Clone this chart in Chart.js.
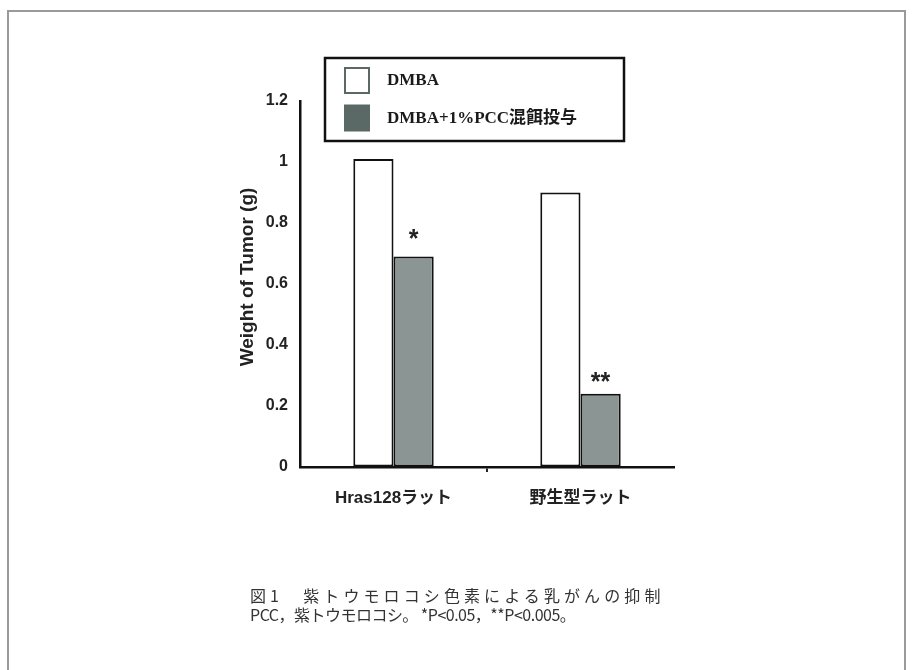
<!DOCTYPE html>
<html>
<head>
<meta charset="utf-8">
<script src="https://cdn.jsdelivr.net/npm/chart.js@4.4.1/dist/chart.umd.min.js"></script>
<style>
  html, body { margin: 0; padding: 0; background: #fff; }
  #wrap { position: relative; width: 913px; height: 670px; overflow: hidden; }
  #frame { position: absolute; left: 7px; top: 10px; width: 899px; height: 700px;
           border: 2px solid #9a9a9a; box-sizing: border-box; }
  canvas { position: absolute; left: 0; top: 0; }
  #caption { position: absolute; left: 250px; top: 586px; color: #333;
             font-family: "Noto Sans CJK JP", sans-serif; font-size: 16px; line-height: 19px; }
  #caption .l1 { letter-spacing: 4.1px; }
  #caption .l2 { letter-spacing: -0.5px; }
</style>
</head>
<body>
<div id="wrap">
  <div id="frame"></div>
  <canvas id="c" width="913" height="670"></canvas>
  <div id="caption">
    <div class="l1">図1　紫トウモロコシ色素による乳がんの抑制</div>
    <div class="l2">PCC，紫トウモロコシ。 *P&lt;0.05，**P&lt;0.005。</div>
  </div>
</div>
<script>
// Rat strains on the x axis
const categories = ['Hras128ラット', '野生型ラット'];
// Tumor weight (g) per group
const dmbaValues = [1.01, 0.90];
const pccValues = [0.69, 0.24];
// Significance marks above the PCC bars
const pccMarks = ['*', '**'];
const seriesLabels = ['DMBA', 'DMBA+1%PCC混餌投与'];
const yTicks = [0, 0.2, 0.4, 0.6, 0.8, 1, 1.2];
const yTitle = 'Weight of Tumor (g)';

const SANS = '"Liberation Sans", Arial, "Noto Sans CJK JP", sans-serif';
const SERIF = '"Liberation Serif", "Times New Roman", "Noto Sans CJK JP", serif';

// Boxed legend in the upper part of the plot
const boxLegend = {
  id: 'boxLegend',
  afterDraw(chart) {
    const ctx = chart.ctx;
    const a = chart.chartArea;
    const x0 = a.left + 25, y0 = a.top - 43, w = 299, h = 83;
    ctx.save();
    ctx.lineWidth = 2.5;
    ctx.strokeStyle = '#111';
    ctx.strokeRect(x0, y0, w, h);
    const swatch = [
      { fill: '#ffffff', stroke: '#5a6965' },
      { fill: '#5a6965', stroke: '#5a6965' }
    ];
    ctx.font = 'bold 17px ' + SERIF;
    ctx.textBaseline = 'middle';
    seriesLabels.forEach((lab, i) => {
      const cy = y0 + 22 + i * 37.5;
      ctx.fillStyle = swatch[i].fill;
      ctx.fillRect(x0 + 20, cy - 12, 24, 25);
      ctx.lineWidth = 2;
      ctx.strokeStyle = swatch[i].stroke;
      ctx.strokeRect(x0 + 20, cy - 12, 24, 25);
      ctx.fillStyle = '#1a1a1a';
      ctx.fillText(lab, x0 + 62, cy + 1);
    });
    ctx.restore();
  }
};

// Rotated y-axis title and significance asterisks
const annotations = {
  id: 'annotations',
  afterDatasetsDraw(chart) {
    const ctx = chart.ctx;
    const a = chart.chartArea;
    ctx.save();
    ctx.font = 'bold 19px ' + SANS;
    ctx.fillStyle = '#222';
    ctx.textAlign = 'center';
    ctx.textBaseline = 'middle';
    ctx.translate(a.left - 52, (a.top + a.bottom) / 2 - 7);
    ctx.rotate(-Math.PI / 2);
    ctx.fillText(yTitle, 0, 0);
    ctx.restore();

    ctx.save();
    ctx.font = 'bold 25px ' + SANS;
    ctx.fillStyle = '#222';
    ctx.textAlign = 'center';
    ctx.textBaseline = 'middle';
    chart.getDatasetMeta(1).data.forEach((bar, i) => {
      const gap = pccMarks[i].length > 1 ? 11 : 16;
      ctx.fillText(pccMarks[i], bar.x, bar.y - gap);
    });
    ctx.restore();
  }
};

new Chart(document.getElementById('c'), {
  type: 'bar',
  data: {
    labels: categories,
    datasets: [
      { label: seriesLabels[0], data: dmbaValues, backgroundColor: '#ffffff',
        borderColor: '#111', borderWidth: 2, borderSkipped: false },
      { label: seriesLabels[1], data: pccValues, backgroundColor: '#8b9593',
        borderColor: '#111', borderWidth: 2, borderSkipped: false }
    ]
  },
  options: {
    responsive: false,
    animation: false,
    layout: { padding: { left: 250, right: 239, top: 101, bottom: 143 } },
    datasets: { bar: { barPercentage: 1, categoryPercentage: 0.43 } },
    plugins: { legend: { display: false }, tooltip: { enabled: false } },
    scales: {
      x: {
        afterFit(s) { s.height = 60; },
        grid: {
          drawOnChartArea: false,
          offset: true,
          tickLength: 5,
          lineWidth: 2,
          color: ctx => (ctx.index === 1 ? '#222' : 'rgba(0,0,0,0)')
        },
        border: { display: true, color: '#111', width: 2.5 },
        ticks: { color: '#222', padding: 16, font: { family: SANS, size: 17, weight: 'bold' } }
      },
      y: {
        min: 0, max: 1.2,
        afterFit(s) { s.width = 50; },
        afterBuildTicks(s) { s.ticks = yTicks.map(v => ({ value: v })); },
        grid: { drawOnChartArea: false, tickLength: 0, color: 'rgba(0,0,0,0)' },
        border: { display: true, color: '#111', width: 2.5 },
        ticks: {
          color: '#222', padding: 12,
          font: { family: SANS, size: 16, weight: 'bold' },
          callback: v => String(v)
        }
      }
    }
  },
  plugins: [boxLegend, annotations]
});
</script>
</body>
</html>
